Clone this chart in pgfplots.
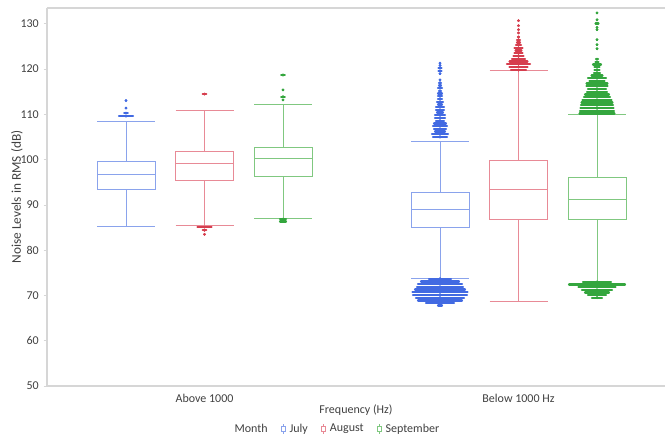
\documentclass[border=0pt]{standalone}
\usepackage{pgfplots}
\pgfplotsset{compat=1.18}
\usepgfplotslibrary{statistics}
\usepackage{fontspec}
\setmainfont{Carlito}
\definecolor{julyline}{RGB}{138,163,236}
\definecolor{julydot}{RGB}{66,106,226}
\definecolor{augline}{RGB}{232,138,150}
\definecolor{augdot}{RGB}{214,62,78}
\definecolor{septline}{RGB}{128,200,128}
\definecolor{septdot}{RGB}{52,166,62}
\definecolor{axisgray}{RGB}{214,214,214}
\definecolor{txt}{RGB}{64,64,64}

% outlier rows: x = draw position, y = value, e = half width (px units)
\pgfplotstableread{
x y e
126 113.05 0
126 111.4 0
126 110.3 1.8
126 109.6 7
}\julyA
\pgfplotstableread{
x y e
204.5 114.5 1.8
204.5 85.1 7
204.5 84.4 1.8
204.5 83.5 0
}\augA
\pgfplotstableread{
x y e
283 118.7 1.8
283 115.4 0
283 113.9 1.8
283 113.2 0
283 86.85 3
283 86.35 3
}\septA
\pgfplotstableread{
x y e
440 105.0 7
440 105.6 8
440 106.2 5
440 106.8 6
440 107.4 7
440 108.0 6
440 108.6 4
440 109.2 5
440 109.8 5
440 110.4 3
440 111.0 4
440 111.6 4
440 112.2 2
440 112.8 3
440 113.4 2
440 114.0 2
440 114.6 2
440 115.2 1
440 115.8 2
440 116.4 1
440 117.0 1
440 117.6 0
440 119.0 0
440 119.6 1.5
440 120.2 1.5
440 120.8 0
440 121.3 0
440 73.7 11
440 73.1 19
440 72.5 22
440 71.9 23
440 71.3 25
440 70.7 27.5
440 70.1 27
440 69.5 24
440 68.9 22
440 68.3 14
440 67.8 2
}\julyB
\pgfplotstableread{
x y e
518.5 119.8 7.5
518.5 120.5 9
518.5 121.1 11.5
518.5 121.7 9
518.5 122.3 6.5
518.5 122.9 5
518.5 123.5 4
518.5 124.1 3
518.5 124.7 4
518.5 125.3 2.5
518.5 125.9 1.5
518.5 126.5 1.5
518.5 127.1 0.5
518.5 128.0 0
518.5 128.7 0
518.5 129.6 0
518.5 130.7 0
}\augB
\pgfplotstableread{
x y e
597 110.2 17.5
597 110.8 17
597 111.4 16.5
597 112.0 16
597 112.6 15.5
597 113.2 14.5
597 113.8 13
597 114.4 12
597 115.0 10
597 115.6 9
597 116.2 10.5
597 116.8 10.5
597 117.4 7.5
597 118.0 9
597 118.6 5.5
597 119.2 3
597 119.8 2.5
597 120.4 2.5
597 121.0 4
597 121.6 1.5
597 122.2 1
597 124.5 0
597 125.4 0
597 126.5 0
597 128.7 0
597 129.2 0
597 130.1 1.5
597 130.9 0
597 132.4 0
597 73.0 14
597 72.45 28
597 71.85 18.5
597 71.25 15
597 70.65 12
597 70.05 9
597 69.5 5
}\septB

\begin{document}
\begin{tikzpicture}
\useasboundingbox (-35.25pt,-40.5pt) rectangle (464.25pt,289.5pt);
\begin{axis}[
  at={(0pt,0pt)}, anchor=south west,
  scale only axis, width=463.5pt, height=283.5pt,
  xmin=47, xmax=665, ymin=50, ymax=133.5,
  axis x line=box, axis y line=left,
  axis line style={-, draw=axisgray, line width=0.9pt},
  every outer x axis line/.append style={-},
  every outer y axis line/.append style={-},
  xtick={204.5,518.5}, xticklabels={Above 1000, Below 1000 Hz},
  x tick style={draw=none},
  ytick={50,60,...,130},
  y tick style={draw=axisgray, line width=0.6pt},
  tick align=outside, major tick length=2.6pt,
  /pgf/number format/assume math mode=true,
  tick label style={font=\fontsize{9}{10}\selectfont, text=txt},
  xlabel={Frequency (Hz)}, ylabel={Noise Levels in RMS (dB)},
  xlabel style={at={(axis description cs:0.5,-0.0635)}, anchor=center, font=\fontsize{9}{10}\selectfont, text=txt},
  ylabel style={at={(axis description cs:-0.0485,0.5)}, anchor=center, font=\fontsize{10}{11}\selectfont, text=txt},
  legend style={at={(axis description cs:0.468,-0.1138)}, anchor=center, draw=none, fill=none,
    font=\fontsize{9}{10}\selectfont, text=txt, inner sep=0pt,
    /tikz/every even column/.append style={column sep=8pt},
    /tikz/every odd column/.append style={column sep=1pt}},
  legend columns=-1,
  legend cell align=left,
  clip=false,
  boxplot/draw direction=y,
]
% boxes
\addplot[forget plot, draw=julyline, line width=0.75pt, mark=none, boxplot prepared={draw direction=y, draw position=126, lower whisker=85.3, lower quartile=93.5, median=96.8, upper quartile=99.65, upper whisker=108.4, box extend=58, whisker extend=58}] coordinates {};
\addplot[forget plot, draw=augline, line width=0.75pt, mark=none, boxplot prepared={draw direction=y, draw position=204.5, lower whisker=85.36, lower quartile=95.3, median=99.1, upper quartile=101.8, upper whisker=110.8, box extend=58, whisker extend=58}] coordinates {};
\addplot[forget plot, draw=septline, line width=0.75pt, mark=none, boxplot prepared={draw direction=y, draw position=283, lower whisker=87.0, lower quartile=96.3, median=100.2, upper quartile=102.75, upper whisker=112.1, box extend=58, whisker extend=58}] coordinates {};
\addplot[forget plot, draw=julyline, line width=0.75pt, mark=none, boxplot prepared={draw direction=y, draw position=440, lower whisker=73.8, lower quartile=85.07, median=89.05, upper quartile=92.7, upper whisker=104.1, box extend=58, whisker extend=58}] coordinates {};
\addplot[forget plot, draw=augline, line width=0.75pt, mark=none, boxplot prepared={draw direction=y, draw position=518.5, lower whisker=68.6, lower quartile=86.75, median=93.4, upper quartile=99.9, upper whisker=119.6, box extend=58, whisker extend=58}] coordinates {};
\addplot[forget plot, draw=septline, line width=0.75pt, mark=none, boxplot prepared={draw direction=y, draw position=597, lower whisker=72.45, lower quartile=86.7, median=91.3, upper quartile=96.0, upper whisker=110.0, box extend=58, whisker extend=58}] coordinates {};
% outliers
\pgfplotsset{outl/.style={forget plot, only marks, mark=*, mark size=0.85pt, color=#1, mark options={draw=none, fill=#1},
  error bars/.cd, x dir=both, x explicit, error mark=none, error bar style={line width=1.7pt, line cap=round, #1}}}
\addplot[outl=julydot] table[x=x,y=y,x error=e] {\julyA};
\addplot[outl=augdot] table[x=x,y=y,x error=e] {\augA};
\addplot[outl=septdot] table[x=x,y=y,x error=e] {\septA};
\addplot[outl=julydot] table[x=x,y=y,x error=e] {\julyB};
\addplot[outl=augdot] table[x=x,y=y,x error=e] {\augB};
\addplot[outl=septdot] table[x=x,y=y,x error=e] {\septB};
% legend
\addlegendimage{empty legend}\addlegendentry{Month}
\addlegendimage{legend image code/.code={\draw[julyline,line width=0.6pt] (0.05cm,-0.13cm)--(0.05cm,0.13cm); \draw[julyline,fill=white,line width=0.6pt] (0cm,-0.06cm) rectangle (0.1cm,0.07cm);}}\addlegendentry{July}
\addlegendimage{legend image code/.code={\draw[augline,line width=0.6pt] (0.05cm,-0.13cm)--(0.05cm,0.13cm); \draw[augline,fill=white,line width=0.6pt] (0cm,-0.06cm) rectangle (0.1cm,0.07cm);}}\addlegendentry{August}
\addlegendimage{legend image code/.code={\draw[septline,line width=0.6pt] (0.05cm,-0.13cm)--(0.05cm,0.13cm); \draw[septline,fill=white,line width=0.6pt] (0cm,-0.06cm) rectangle (0.1cm,0.07cm);}}\addlegendentry{September}
\end{axis}
\end{tikzpicture}
\end{document}
